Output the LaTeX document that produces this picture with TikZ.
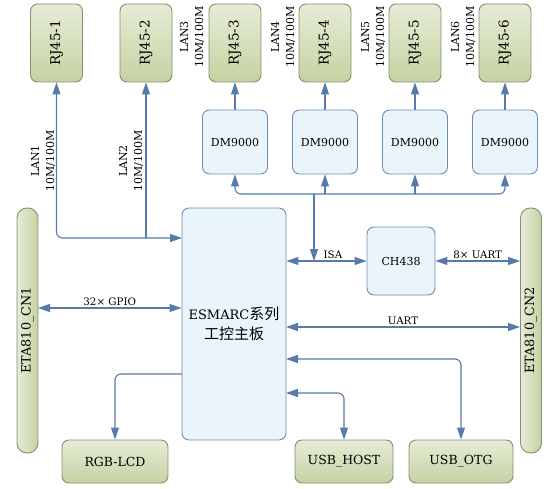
\documentclass[tikz,border=0pt]{standalone}
\usepackage{fontspec}
\setmainfont{DejaVu Serif}
\newfontfamily\cjk{Noto Sans CJK SC}
\usetikzlibrary{arrows.meta}
\definecolor{linec}{RGB}{88,122,166}
\definecolor{gborder}{RGB}{128,145,112}
\definecolor{gtop}{RGB}{230,236,214}
\definecolor{gbot}{RGB}{198,210,162}
\definecolor{bborder}{RGB}{110,140,180}
\definecolor{bfill}{RGB}{234,244,251}
\tikzset{
 gbox/.style={draw=gborder, line width=0.9pt, rounded corners=7pt, top color=gtop, bottom color=gbot, inner sep=0pt, font=\fontsize{12.5}{14}\selectfont},
 cnbar/.style={draw=gborder, line width=0.9pt, rounded corners=10pt, left color=gtop, right color=gbot, inner sep=0pt, minimum width=21pt, minimum height=245pt, font=\fontsize{12.8}{14}\selectfont},
 bbox/.style={draw=bborder, line width=0.9pt, rounded corners=7pt, fill=bfill, inner sep=0pt, font=\fontsize{11}{13}\selectfont},
 conn/.style={draw=linec, line width=1.1pt, rounded corners=6pt},
 arr/.style={conn, -{Triangle[length=12pt,width=8pt]}},
 arrb/.style={conn, {Triangle[length=12pt,width=8pt]}-{Triangle[length=12pt,width=8pt]}},
 elabel/.style={font=\fontsize{10.3}{12}\selectfont, inner sep=1.5pt, above},
 lanlabel/.style={rotate=90, align=center, inner sep=0pt, font=\fontsize{11}{15}\selectfont},
}
\begin{document}
\begin{tikzpicture}[x=1pt,y=-1pt]
\useasboundingbox (0,0) rectangle (559,489);
% RJ45 boxes
\foreach \i/\x in {1/56.5,2/146,3/235,4/325,5/415,6/505}{
  \node[gbox, minimum width=52pt, minimum height=78pt, font=\fontsize{13.5}{14}\selectfont] (rj\i) at (\x,43) {\rotatebox{90}{RJ45-\i}};
}
% DM9000 boxes
\foreach \i/\x in {3/235,4/325,5/415,6/505}{
  \node[bbox, minimum width=65pt, minimum height=64pt] (dm\i) at (\x,142) {DM9000};
  \draw[arr] (dm\i.north) -- (rj\i.south);
}
% main board
\node[bbox, minimum width=104pt, minimum height=232pt, align=center, font=\fontsize{13}{20}\selectfont] (esm) at (234,324) {ESMARC{\cjk\fontsize{15}{20}\selectfont 系列}\\{\cjk\fontsize{15}{20}\selectfont 工控主板}};
\node[bbox, minimum width=68pt, minimum height=68pt] (ch) at (401,261) {CH438};
% connector bars
\node[cnbar] (cn1) at (27.5,330.5) {\rotatebox{90}{ETA810\_CN1}};
\node[cnbar] (cn2) at (531,330.5) {\rotatebox{90}{ETA810\_CN2}};
% bottom boxes
\node[gbox, minimum width=106pt, minimum height=43pt] (rgb) at (115,461.5) {RGB-LCD};
\node[gbox, minimum width=98pt, minimum height=43pt] (host) at (344,461.5) {USB\_HOST};
\node[gbox, minimum width=104pt, minimum height=43pt] (otg) at (461,461.5) {USB\_OTG};
% bus to DM9000
\coordinate (bus) at (314,194);
\draw[arr] (bus) -| (dm3.south);
\draw[arr] (bus) -| (dm6.south);
\draw[arr] (dm4.south |- bus) -- (dm4.south);
\draw[arr] (dm5.south |- bus) -- (dm5.south);
\coordinate (isa) at (314,261);
\draw[arr] (bus) -- (isa);
% ISA and UARTs
\draw[arrb] (esm.east |- ch.west) -- (ch.west) node[elabel, pos=0.58] {ISA};
\draw[arrb] (ch.east) -- (cn2.west |- ch.east) node[elabel, midway] {8× UART};
\coordinate (uartl) at (286,327);
\draw[arrb] (uartl) -- (cn2.west |- uartl) node[elabel, midway] {UART};
\coordinate (gpio) at (38,308);
\draw[arrb] (gpio) -- (esm.west |- gpio) node[elabel, midway] {32× GPIO};
% LAN1/LAN2
\coordinate (lan) at (182,238);
\draw[arrb] (rj1.south) |- (lan);
\draw[arr] (rj2.south |- lan) -- (rj2.south);
% bottom connectors
\coordinate (rgbl) at (182,374);
\draw[arr] (rgbl) -| (rgb.north);
\coordinate (hostl) at (286,393);
\draw[arrb] (hostl) -| (host.north);
\coordinate (otgl) at (286,359);
\draw[arrb] (otgl) -| (otg.north);
% LAN labels
\node[lanlabel] (l1) at (43,161) {LAN1\\10M/100M};
\node[lanlabel] (l2) at (131,161) {LAN2\\10M/100M};
\node[lanlabel] (l3) at (192,37) {LAN3\\10M/100M};
\node[lanlabel] (l4) at (283,37) {LAN4\\10M/100M};
\node[lanlabel] (l5) at (373,37) {LAN5\\10M/100M};
\node[lanlabel] (l6) at (463,37) {LAN6\\10M/100M};
\end{tikzpicture}
\end{document}
